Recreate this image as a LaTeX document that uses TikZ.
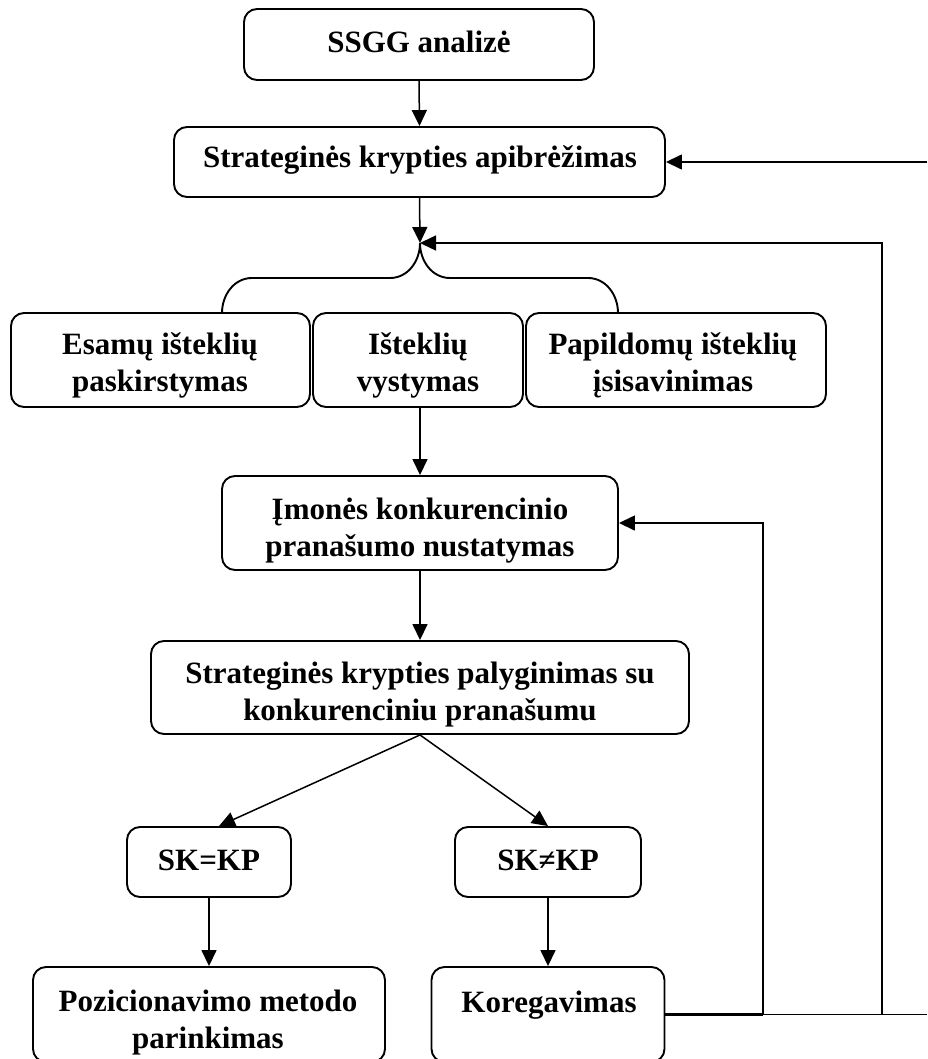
\documentclass[tikz,border=0pt]{standalone}
\usepackage{fontspec}
\setmainfont{Liberation Serif}
\usetikzlibrary{arrows.meta,calc}
\begin{document}
\begin{tikzpicture}[x=1pt,y=-1pt,
  box/.style={draw, line width=1.9pt, rounded corners=13pt, inner sep=0pt},
  lbl/.style={font=\fontsize{31}{37}\selectfont\bfseries, align=center, inner sep=0pt},
  arr/.style={line width=1.5pt, -{Triangle[length=16pt,width=15pt]}},
  ln/.style={line width=1.5pt},
  brace/.style={line width=1.9pt}]
\useasboundingbox (0,0) rectangle (927,1059);
% boxes
\node[box, minimum width=350pt, minimum height=71pt] (b1) at (419,44.5) {};
\node[box, minimum width=491pt, minimum height=70pt] (b2) at (419.5,162) {};
\node[box, minimum width=299pt, minimum height=94pt] (b3) at (160.5,360) {};
\node[box, minimum width=210pt, minimum height=94pt] (b4) at (418,360) {};
\node[box, minimum width=300pt, minimum height=94pt] (b5) at (676,360) {};
\node[box, minimum width=396pt, minimum height=94pt] (b6) at (420,523) {};
\node[box, minimum width=538pt, minimum height=93pt] (b7) at (420,687.5) {};
\node[box, minimum width=164pt, minimum height=70pt] (b8) at (209,862) {};
\node[box, minimum width=186pt, minimum height=70pt] (b9) at (548,862) {};
\node[box, minimum width=352pt, minimum height=95pt] (b10) at (209,1014.5) {};
\node[box, minimum width=233pt, minimum height=95pt] (b11) at (548,1014.5) {};
% texts
\node[lbl, anchor=base] (t1) at (419,53) {SSGG analizė};
\node[lbl, anchor=base] (t2) at (420,168) {Strateginės krypties apibrėžimas};
\node[lbl] (t3) at (160,365.5) {Esamų išteklių\\paskirstymas};
\node[lbl] (t4) at (418,365.5) {Išteklių\\vystymas};
\node[lbl] (t5) at (673,365.5) {Papildomų išteklių\\įsisavinimas};
\node[lbl] (t6) at (420,530.5) {Įmonės konkurencinio\\pranašumo nustatymas};
\node[lbl] (t7) at (420,694.5) {Strateginės krypties palyginimas su\\konkurenciniu pranašumu};
\node[lbl, anchor=base] (t8) at (209,870) {SK=KP};
\node[lbl, anchor=base] (t9) at (548,870) {SK≠KP};
\node[lbl] (t10) at (208,1022.5) {Pozicionavimo metodo\\parinkimas};
\node[lbl, anchor=base] (t11) at (549,1012) {Koregavimas};
% coordinates
\coordinate (tip) at (420,243);
\coordinate (e1) at (927,1014.5);
\coordinate (e2) at (927,162);
\coordinate (j1) at (763,1014.5);
\coordinate (j2) at (882,1014.5);
% brace
\draw[brace] (222,313) to[out=90,in=180] (252,278) -- (390,278) to[out=0,in=-90] (tip)
  to[out=-90,in=180] (450,278) -- (588,278) to[out=0,in=90] (618,313);
% connectors
\draw[arr] (b1.south) -- (b2.north);
\draw[arr] (b2.south) -- (tip);
\draw[arr] (b6.north |- b4.south) -- (b6.north);
\draw[arr] (b6.south) -- (b7.north);
\draw[arr] (b7.south) -- ([xshift=10pt]b8.north);
\draw[arr] (b7.south) -- (b9.north);
\draw[arr] (b8.south) -- (b10.north);
\draw[arr] (b9.south) -- (b11.north);
\draw[line width=2.2pt] (b11.east) -- (j1);
\draw[ln] (j1) -- (e1);
\draw[arr] (j1) -- (j1 |- b6.east) -- (b6.east);
\draw[arr] (j2) -- (j2 |- tip) -- (tip);
\draw[arr] (e2) -- (b2.east);
\end{tikzpicture}
\end{document}
